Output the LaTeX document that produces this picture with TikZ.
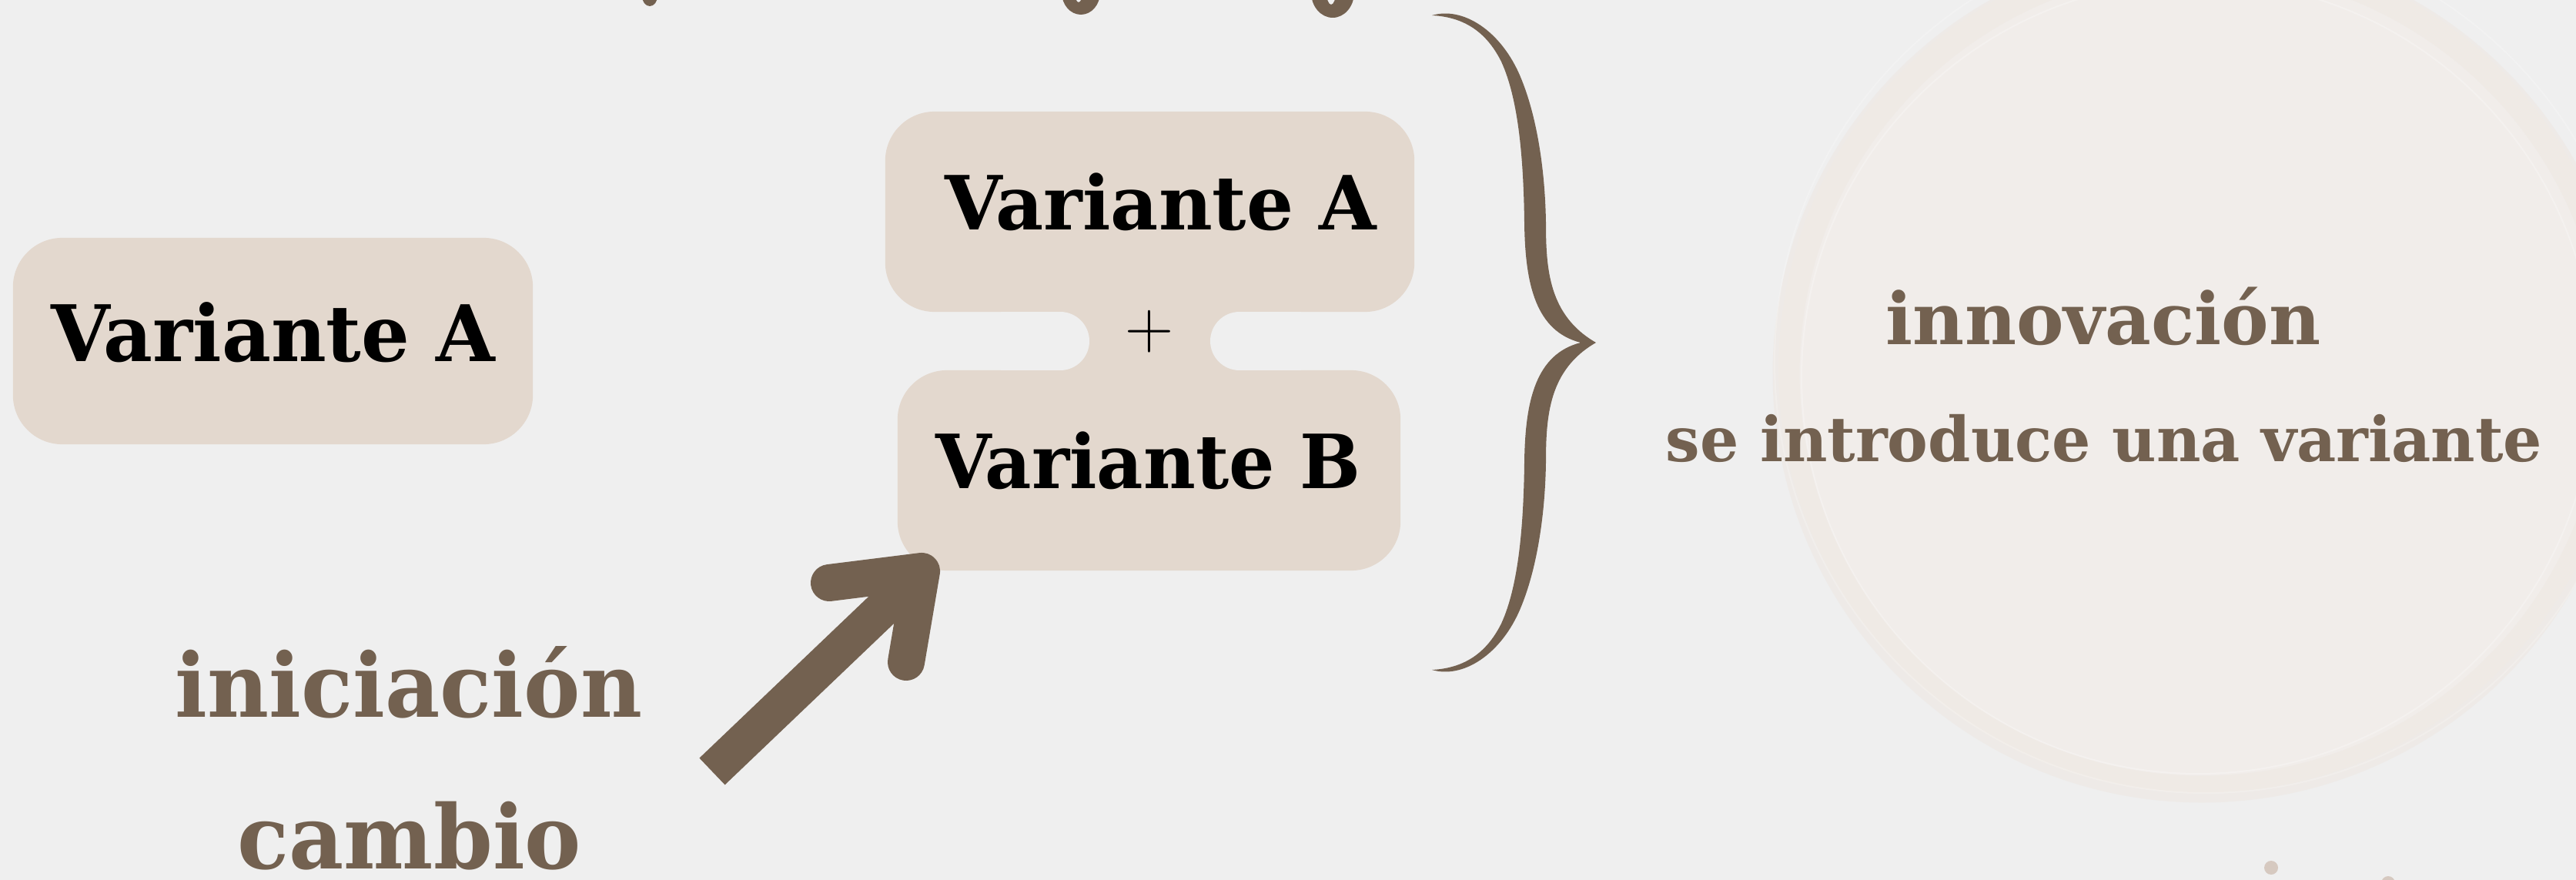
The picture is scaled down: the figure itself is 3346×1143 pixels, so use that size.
\documentclass[tikz,border=0pt]{standalone}
\usepackage{fontspec}
\setmainfont{DejaVu Serif}
\usepackage{graphicx}
\definecolor{bgc}{HTML}{EFEFEF}
\definecolor{boxc}{HTML}{E3D8CE}
\definecolor{brownc}{HTML}{736150}
\definecolor{dotc}{HTML}{D6C9C0}
\definecolor{ringin}{HTML}{F1EDEA}
\definecolor{ringdk}{HTML}{EEE8E3}
\newcommand{\fitto}[3]{\resizebox{#1}{\height}{\fontsize{#2}{#2}\selectfont\bfseries #3}}
\tikzset{
  boxnode/.style={fill=boxc, draw=none, rounded corners=0.64cm, inner sep=0pt},
  lbl/.style={inner sep=0pt, anchor=base},
  brownlbl/.style={lbl, text=brownc},
  arrowline/.style={draw=brownc, line width=0.48cm},
  barb/.style={draw=brownc, line width=0.48cm, line cap=round, line join=round},
}
\begin{document}
\begin{tikzpicture}[x=0.01cm,y=-0.01cm]
\useasboundingbox (0,0) rectangle (3346,1143);
\fill[bgc] (0,0) rectangle (3346,1143);
\begin{scope}
\clip (0,0) rectangle (3346,1143);
% faint brush ring on the right
\fill[ringin] (2860,480) circle [radius=550];
\draw[ringdk, line width=0.35cm, opacity=0.6] (2860,485) circle [radius=540];
\draw[white, line width=0.02cm, opacity=0.25] (2855,490) circle [radius=515];
\draw[white, line width=0.02cm, opacity=0.2] (2865,470) circle [radius=560];
% cut-off descenders of the text above the frame
\fill[brownc] (844,-5) ellipse [x radius=10, y radius=13];
\fill[brownc, even odd rule] (1404,-10) ellipse [x radius=25, y radius=29] (1401,-10) ellipse [x radius=5, y radius=13];
\fill[brownc, even odd rule] (1731,-10) ellipse [x radius=28, y radius=33] (1729,-10) ellipse [x radius=6, y radius=16];
% small dots
\fill[dotc] (2950,1127) circle [radius=9];
\fill[dotc] (3102,1147) circle [radius=9];
\end{scope}

% left box
\node[boxnode, minimum width=6.75cm, minimum height=2.68cm] (boxL) at (354.5,443) {};
\node[lbl, text=black] (tL) at (355,470) {\fitto{5.76cm}{28.8}{Variante A}};

% merged central shape
\node[boxnode, minimum width=6.87cm, minimum height=2.60cm] (boxTop) at (1493.5,275) {};
\node[boxnode, minimum width=6.53cm, minimum height=2.60cm] (boxBot) at (1492.5,611) {};
\fill[boxc] (1330,395) rectangle (1660,491);
\fill[bgc] (1300,405) rectangle (1377,481);
\fill[bgc] (1610,405) rectangle (1690,481);
\fill[bgc] (1377,443) circle [radius=38];
\fill[bgc] (1610,443) circle [radius=38];
\node[lbl, text=black] (tTop) at (1508,299) {\fitto{5.60cm}{27.6}{Variante A}};
\node[inner sep=0pt, text=black] (plus) at (1493,431) {\fontsize{25}{25}\selectfont$+$};
\node[lbl, text=black] (tBot) at (1491.5,634) {\fitto{5.51cm}{27.6}{Variante B}};

% brace
\fill[brownc] (1860,20) .. controls (1900,8) and (1950,40) .. (1975,100)
  .. controls (1996,150) and (2007,220) .. (2008,290)
  .. controls (2008,350) and (2012,410) .. (2073,445)
  .. controls (2012,480) and (2008,540) .. (2008,600)
  .. controls (2007,670) and (1996,740) .. (1975,790)
  .. controls (1950,850) and (1900,882) .. (1860,870)
  .. controls (1900,868) and (1930,850) .. (1950,810)
  .. controls (1973,760) and (1979,680) .. (1980,600)
  .. controls (1981,520) and (1995,460) .. (2053,445)
  .. controls (1995,430) and (1981,370) .. (1980,290)
  .. controls (1979,210) and (1973,130) .. (1950,80)
  .. controls (1930,40) and (1900,22) .. (1860,20) -- cycle;

% right texts
\node[brownlbl] (tInn) at (2732,448) {\fitto{5.64cm}{26.5}{innovación}};
\node[brownlbl] (tIntro) at (2733,599) {\fitto{11.38cm}{22.9}{se introduce una variante}};

% left bottom texts
\node[brownlbl] (tIni) at (531,931) {\fitto{6.06cm}{32.7}{iniciación}};
\node[brownlbl] (tCam) at (532,1128) {\fitto{4.46cm}{32.7}{cambio}};

% arrow
\coordinate (arrTail) at (925,1002);
\coordinate (arrEnd) at (1187,752);
\coordinate (arrTip) at (1197,742);
\coordinate (barbL) at (1077,757);
\coordinate (barbR) at (1177,860);
\draw[arrowline] (arrTail) -- (arrEnd);
\draw[barb] (barbL) -- (arrTip) -- (barbR);
\end{tikzpicture}
\end{document}
